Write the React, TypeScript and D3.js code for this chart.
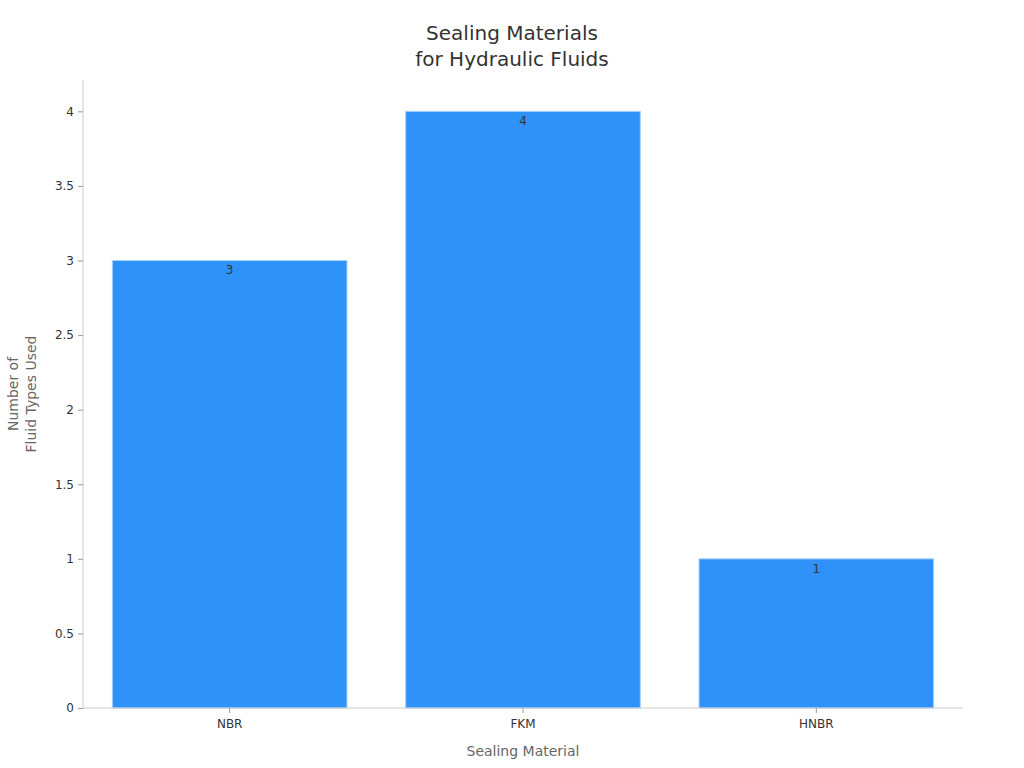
import { useEffect, useRef } from 'react';
import * as d3 from 'd3';

const materials = ['NBR', 'FKM', 'HNBR'];
const fluidCounts = [3, 4, 1];
const yTicks = [0, 0.5, 1, 1.5, 2, 2.5, 3, 3.5, 4];

const width = 1024;
const height = 768;
const margin = { top: 80, right: 61, bottom: 60, left: 83 };
const font = 'DejaVu Sans, sans-serif';

export default function App() {
  const svgRef = useRef<SVGSVGElement>(null);

  useEffect(() => {
    if (!svgRef.current) return;
    const svg = d3.select(svgRef.current);
    svg.selectAll('*').remove();

    const innerW = width - margin.left - margin.right;
    const innerH = height - margin.top - margin.bottom;

    const x = d3.scaleBand<string>()
      .domain(materials)
      .range([0, innerW])
      .paddingInner(0.2)
      .paddingOuter(0.1);

    const y = d3.scaleLinear().domain([0, 4.21]).range([innerH, 0]);

    const g = svg.append('g').attr('transform', `translate(${margin.left},${margin.top})`);

    // bars
    g.selectAll('rect.bar')
      .data(materials)
      .enter()
      .append('rect')
      .attr('class', 'bar')
      .attr('x', d => x(d)!)
      .attr('y', (_, i) => y(fluidCounts[i]))
      .attr('width', x.bandwidth())
      .attr('height', (_, i) => y(0) - y(fluidCounts[i]))
      .attr('fill', '#2f92f9')
      .attr('stroke', '#a9d3fb')
      .attr('stroke-width', 1);

    g.selectAll('text.val')
      .data(materials)
      .enter()
      .append('text')
      .attr('class', 'val')
      .attr('x', d => x(d)! + x.bandwidth() / 2)
      .attr('y', (_, i) => y(fluidCounts[i]) + 14)
      .attr('text-anchor', 'middle')
      .attr('font-family', font)
      .attr('font-size', 12)
      .attr('fill', '#333')
      .text((_, i) => fluidCounts[i]);

    // y axis
    const yAxis = g.append('g').call(
      d3.axisLeft(y).tickValues(yTicks).tickSize(5).tickPadding(4).tickFormat(d => String(d))
    );
    yAxis.select('.domain').attr('stroke', '#ccc').attr('d', `M0,0V${innerH}`);
    yAxis.selectAll('.tick line').attr('stroke', '#999');
    yAxis.selectAll('.tick text').attr('font-family', font).attr('font-size', 12).attr('fill', '#333');

    // x axis
    const xAxis = g.append('g')
      .attr('transform', `translate(0,${innerH})`)
      .call(d3.axisBottom(x).tickSize(5).tickPadding(6));
    xAxis.select('.domain').attr('stroke', '#ccc').attr('d', `M0,0H${innerW}`);
    xAxis.selectAll('.tick line').attr('stroke', '#999');
    xAxis.selectAll('.tick text').attr('font-family', font).attr('font-size', 12).attr('fill', '#333');

    // titles
    const title = svg.append('text')
      .attr('x', width / 2)
      .attr('text-anchor', 'middle')
      .attr('font-family', font)
      .attr('font-size', 20)
      .attr('fill', '#333');
    title.append('tspan').attr('x', width / 2).attr('y', 40).text('Sealing Materials');
    title.append('tspan').attr('x', width / 2).attr('y', 66).text('for Hydraulic Fluids');

    svg.append('text')
      .attr('x', margin.left + innerW / 2)
      .attr('y', 756)
      .attr('text-anchor', 'middle')
      .attr('font-family', font)
      .attr('font-size', 14)
      .attr('fill', '#666')
      .text('Sealing Material');

    const yt = svg.append('text')
      .attr('transform', `translate(0,${margin.top + innerH / 2}) rotate(-90)`)
      .attr('text-anchor', 'middle')
      .attr('font-family', font)
      .attr('font-size', 14)
      .attr('fill', '#666');
    yt.append('tspan').attr('x', 0).attr('y', 18).text('Number of');
    yt.append('tspan').attr('x', 0).attr('y', 36).text('Fluid Types Used');
  }, []);

  return (
    <div style={{ position: 'absolute', left: 0, top: 0 }}>
      <svg ref={svgRef} width={width} height={height} style={{ display: 'block', background: '#fff' }} />
    </div>
  );
}
